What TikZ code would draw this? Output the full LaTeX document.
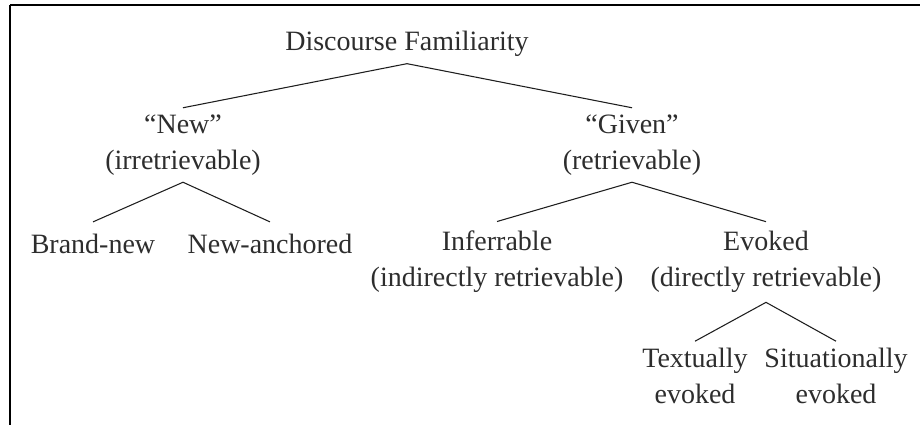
\documentclass[tikz,border=0pt]{standalone}
\usepackage{fontspec}
\setmainfont{Liberation Serif}
\usepackage{tikz}

\begin{document}
\begin{tikzpicture}[x=0.75pt,y=0.75pt,yscale=-1,xscale=1,
    lbl/.style={align=center,inner xsep=0pt,inner ysep=5pt,text={rgb,255:red,45;green,45;blue,45},
      font=\fontsize{21}{27}\selectfont},
    branch/.style={color={rgb,255:red,30;green,30;blue,30},line width=0.8pt}]
        \useasboundingbox (0,0) rectangle (920,425);

        %Frame: top and left rules
        \draw [line width=1.9pt] (10,5) -- (920,5) ;
        \draw [line width=1.9pt] (10,5) -- (10,425) ;

        % Text Node
        \node [lbl] (fam) at (407,44) {Discourse Familiarity};
        % Text Node
        \node [lbl] (new) at (183,145) {``New''\\(irretrievable)};
        % Text Node
        \node [lbl] (given) at (632,145) {``Given''\\(retrievable)};
        % Text Node
        \node [lbl,inner ysep=9pt] (brand) at (93,244) {Brand-new};
        % Text Node
        \node [lbl,inner ysep=9pt] (anch) at (270,244) {New-anchored};
        % Text Node
        \node [lbl,inner ysep=7pt] (infer) at (497,262) {Inferrable\\(indirectly retrievable)};
        % Text Node
        \node [lbl,inner ysep=7pt] (evok) at (766,262) {Evoked\\(directly retrievable)};
        % Text Node
        \node [lbl] (textual) at (695,376) {Textually\\evoked};
        % Text Node
        \node [lbl] (situ) at (836,376) {Situationally\\evoked};

        %Straight Lines
        \draw [branch] (new.north) -- (fam.south) -- (given.north) ;
        %Straight Lines
        \draw [branch] (brand.north) -- (new.south) -- (anch.north) ;
        %Straight Lines
        \draw [branch] (infer.north) -- (given.south) -- (evok.north) ;
        %Straight Lines
        \draw [branch] (textual.north) -- (evok.south) -- (situ.north) ;

    \end{tikzpicture}
\end{document}
